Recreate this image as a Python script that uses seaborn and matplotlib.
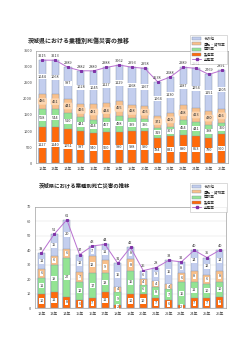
import numpy as np
import pandas as pd
import matplotlib
matplotlib.use("Agg")
import matplotlib.pyplot as plt
import seaborn as sns
from matplotlib.patches import Patch
from matplotlib.lines import Line2D

sns.set_style("white")
plt.rcParams['font.family'] = ['Noto Sans CJK JP', 'DejaVu Sans']

years = ['12年', '13年', '14年', '15年', '16年', '17年', '18年', '19年',
         '20年', '21年', '22年', '23年', '24年', '25年', '26年']
series_names = ['その他', '運輸・貨物業', '建設業', '製造業', '全産業']

# 死傷災害
inj_mfg = [1127, 1140, 1051, 987, 940, 960, 980, 998, 990, 784, 831, 880, 853, 790, 900]
inj_con = [558, 544, 510, 441, 414, 457, 498, 399, 396, 319, 307, 454, 441, 398, 360]
inj_trn = [486, 461, 441, 426, 481, 444, 455, 428, 405, 371, 420, 468, 413, 430, 426]
inj_oth = [1044, 1068, 987, 1028, 1045, 1127, 1129, 1168, 1167, 1064, 1130, 1187, 1254, 1151, 1205]
inj_all = [3215, 3213, 2989, 2882, 2880, 2988, 3062, 2993, 2958, 2538, 2688, 2989, 2961, 2769, 2891]

# 死亡災害
dth_mfg = [10, 11, 8, 6, 7, 11, 2, 10, 10, 7, 6, 2, 7, 7, 8]
dth_con = [11, 19, 27, 12, 17, 13, 9, 16, 6, 8, 7, 16, 11, 10, 10]
dth_trn = [6, 6, 6, 7, 12, 9, 4, 8, 4, 4, 4, 6, 8, 6, 8]
dth_oth = [11, 15, 20, 12, 7, 11, 16, 8, 6, 9, 16, 8, 14, 12, 14]
dth_all = [38, 51, 61, 37, 43, 44, 31, 42, 26, 28, 33, 32, 40, 35, 40]

C_OTH = '#C3CEEE'
C_TRN = '#F9C08A'
C_CON = '#93E493'
C_MFG = '#FF6A0A'
C_LINE = '#B870D0'
C_MARK = '#8033A8'
EDGE = '#8090A8'

fig = plt.figure(figsize=(2.5, 3.53), dpi=100)


def draw(ax, mfg, con, trn, oth, tot, ymax, ystep, off, peach_box, grid):
    df = pd.DataFrame({'year': years, 'mfg': mfg, 'con': con, 'trn': trn, 'oth': oth})
    df['c1'] = df['mfg']
    df['c2'] = df['c1'] + df['con']
    df['c3'] = df['c2'] + df['trn']
    df['c4'] = df['c3'] + df['oth']
    for col, colr in [('c4', C_OTH), ('c3', C_TRN), ('c2', C_CON), ('c1', C_MFG)]:
        sns.barplot(data=df, x='year', y=col, color=colr, width=0.55,
                    edgecolor=EDGE, linewidth=0.3, saturation=1, ax=ax, zorder=2)
    xs = np.arange(len(years))
    sns.lineplot(x=xs, y=tot, color=C_LINE, lw=0.7, marker='s', markersize=1.6,
                 markerfacecolor=C_MARK, markeredgecolor=C_MARK, ax=ax, zorder=4)
    fs = 2.8
    for i in range(len(years)):
        segs = [(0, df['c1'][i], mfg[i], False),
                (df['c1'][i], df['c2'][i], con[i], False),
                (df['c2'][i], df['c3'][i], trn[i], peach_box),
                (df['c3'][i], df['c4'][i], oth[i], False)]
        for lo, hi, v, pb in segs:
            if pb:
                bb = dict(boxstyle='round,pad=0.35', fc='#FCD6B2', ec='none')
            else:
                bb = dict(boxstyle='square,pad=0.15', fc='white', ec='none')
            ax.text(i, (lo + hi) / 2, str(v), fontsize=fs, ha='center', va='center',
                    color='#333333', bbox=bb, zorder=5)
        ax.text(i, tot[i] + off, str(tot[i]), fontsize=fs, ha='center', va='bottom',
                color='#333333', zorder=5)
    ax.set_ylim(0, ymax)
    ax.set_xlim(-0.5, len(years) - 0.5)
    ax.set_yticks(np.arange(0, ymax + 1, ystep))
    ax.set_xlabel('')
    ax.set_ylabel('')
    if grid:
        ax.grid(axis='y', color='#E0E0E0', lw=0.35, zorder=0)
        ax.set_axisbelow(True)
    for s in ax.spines.values():
        s.set_color('#A0A0A0')
        s.set_linewidth(0.5)
    ax.tick_params(axis='both', labelsize=2.8, length=1.2, width=0.3, pad=1.5,
                   colors='#444444')


ax1 = fig.add_axes([36 / 250, 1 - 163 / 353, (228 - 36) / 250, (163 - 51) / 353])
draw(ax1, inj_mfg, inj_con, inj_trn, inj_oth, inj_all, 3500, 500, 70, True, False)

ax2 = fig.add_axes([35 / 250, 1 - 308.3 / 353, (226 - 35) / 250, (308.3 - 206.7) / 353])
draw(ax2, dth_mfg, dth_con, dth_trn, dth_oth, dth_all, 70, 10, 1.5, False, True)

fig.text(28 / 250, 1 - 41 / 353, '茨城県における業種別死傷災害の推移',
         fontsize=4.3, fontweight='bold', va='center', ha='left', color='#222222')
fig.text(39 / 250, 1 - 185 / 353, '茨城県における業種別死亡災害の推移',
         fontsize=3.9, fontweight='bold', va='center', ha='left', color='#222222')

handles = [Patch(facecolor=C_OTH, edgecolor=EDGE, lw=0.3),
           Patch(facecolor=C_TRN, edgecolor=EDGE, lw=0.3),
           Patch(facecolor=C_CON, edgecolor=EDGE, lw=0.3),
           Patch(facecolor=C_MFG, edgecolor=EDGE, lw=0.3),
           Line2D([0], [0], color=C_LINE, lw=0.7, marker='s', markersize=1.6,
                  markerfacecolor=C_MARK, markeredgecolor=C_MARK)]
for anchor in [(227 / 250, 1 - 35 / 353), (227 / 250, 1 - 183 / 353)]:
    leg = fig.legend(handles, series_names, loc='upper right', bbox_to_anchor=anchor,
                     fontsize=2.6, frameon=True, fancybox=False, handlelength=2.6,
                     handleheight=0.9, labelspacing=0.35, borderpad=0.5,
                     handletextpad=0.6, borderaxespad=0)
    leg.get_frame().set_edgecolor('#B0B0B0')
    leg.get_frame().set_linewidth(0.4)
    leg.set_zorder(10)

fig.savefig('out.png', dpi=100)
